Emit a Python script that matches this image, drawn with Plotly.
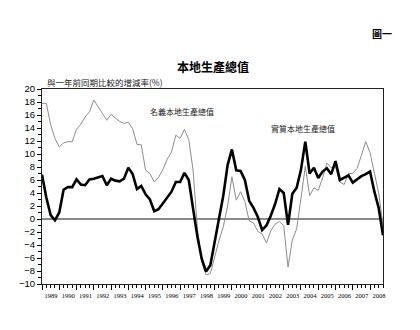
import plotly.graph_objects as go

# Quarterly year-on-year growth rates (%), 1989 Q1 - 2008 Q4
years = list(range(1989, 2009))
nominal_gdp = [
    17.8, 17.8, 14.5, 12.4, 11.1, 11.7, 11.9, 11.9, 13.8, 14.6,
    15.7, 16.5, 18.3, 17.3, 16.3, 15.2, 16.1, 15.5, 15.0, 14.7,
    14.9, 13.9, 11.5, 11.4, 7.5, 7.0, 5.7, 6.4, 7.6, 9.2,
    10.3, 12.9, 12.4, 13.8, 12.2, 7.5, -1.4, -6.6, -8.6, -8.4,
    -5.6, -3.3, -1.2, 2.0, 6.5, 2.9, 4.2, 2.7, -0.3, -0.6,
    -1.9, -2.3, -3.7, -1.8, -0.8, -0.4, -1.0, -7.4, -3.2, -1.5,
    3.2, 8.1, 3.6, 4.8, 4.4, 6.3, 8.6, 7.9, 8.0, 5.7,
    5.3, 7.0, 7.0, 7.8, 9.8, 11.9, 10.2, 7.1, 4.0, -1.0,
]
real_gdp = [
    6.8, 3.3, 0.6, -0.2, 1.0, 4.5, 4.9, 4.9, 6.1, 5.3,
    5.2, 6.1, 6.2, 6.4, 6.6, 5.2, 6.2, 5.9, 5.8, 6.2,
    7.9, 6.9, 4.6, 5.1, 3.8, 3.0, 1.2, 1.5, 2.4, 3.3,
    4.2, 5.7, 5.7, 7.1, 6.0, 1.6, -2.7, -6.1, -8.1, -7.1,
    -3.6, -0.1, 3.6, 8.3, 10.7, 7.5, 7.4, 6.0, 2.8, 1.7,
    0.3, -1.7, -1.0, 0.5, 2.3, 4.6, 4.0, -0.9, 3.9, 4.8,
    7.6, 11.9, 7.0, 7.9, 6.3, 7.3, 7.8, 6.9, 8.9, 6.0,
    6.4, 6.7, 5.6, 6.1, 6.6, 6.9, 7.3, 4.2, 1.7, -2.5,
]
quarter_idx = list(range(len(real_gdp)))
year_starts = [4 * k for k in range(len(years))]

CJK = "Noto Sans CJK TC"

fig = go.Figure()
fig.add_trace(go.Scatter(
    x=quarter_idx, y=nominal_gdp, mode="lines",
    line=dict(color="#8c8c8c", width=1), hoverinfo="skip", showlegend=False,
))
fig.add_trace(go.Scatter(
    x=quarter_idx, y=real_gdp, mode="lines",
    line=dict(color="#000000", width=2.6), hoverinfo="skip", showlegend=False,
))

fig.update_layout(
    width=420, height=330,
    margin=dict(l=42, r=37, t=89, b=46),
    paper_bgcolor="white", plot_bgcolor="white",
    showlegend=False,
    xaxis=dict(
        range=[0, len(real_gdp) - 1],
        tickmode="array", tickvals=year_starts, ticktext=[str(y) for y in years],
        ticklabelshift=9,
        ticks="outside", ticklen=5, tickwidth=1, tickcolor="#000",
        minor=dict(tickmode="linear", tick0=0, dtick=1, ticks="outside",
                   ticklen=3, tickwidth=1, tickcolor="#000"),
        showline=True, linecolor="#222", linewidth=1, mirror=True,
        showgrid=False, zeroline=False,
        tickfont=dict(family="Liberation Serif", size=6.5, color="#000"),
    ),
    yaxis=dict(
        range=[-10, 20], tickmode="linear", tick0=-10, dtick=2,
        ticks="outside", ticklen=4, tickwidth=1, tickcolor="#000",
        minor=dict(tickmode="linear", tick0=-10, dtick=1, ticks="outside",
                   ticklen=3, tickwidth=1, tickcolor="#000"),
        showline=True, linecolor="#222", linewidth=1, mirror=True,
        showgrid=False,
        zeroline=True, zerolinecolor="#8a8a8a", zerolinewidth=2,
        tickfont=dict(family="Liberation Sans", size=9.5, color="#000"),
    ),
)

fig.add_annotation(text="<b>本地生產總值</b>", xref="paper", yref="paper",
                   x=0.501, y=1.113, xanchor="center", yanchor="middle",
                   showarrow=False, font=dict(family=CJK, size=12, color="#000"))
fig.add_annotation(text="<b>圖一</b>", xref="paper", yref="paper",
                   x=0.998, y=1.287, xanchor="center", yanchor="middle",
                   showarrow=False, font=dict(family=CJK, size=10, color="#000"))
fig.add_annotation(text="與一年前同期比較的增減率(%)", xref="paper", yref="paper",
                   x=0.009, y=1.036, xanchor="left", yanchor="middle",
                   showarrow=False, font=dict(family=CJK, size=8.5, color="#222"))
fig.add_annotation(text="名義本地生產總值", xref="x", yref="y",
                   x=24.6, y=16.5, xanchor="left", yanchor="middle",
                   showarrow=False, font=dict(family=CJK, size=8, color="#222"))
fig.add_annotation(text="實質本地生產總值", xref="x", yref="y",
                   x=52.5, y=14.0, xanchor="left", yanchor="middle",
                   showarrow=False, font=dict(family=CJK, size=8, color="#222"))

fig.write_html("out.html")
